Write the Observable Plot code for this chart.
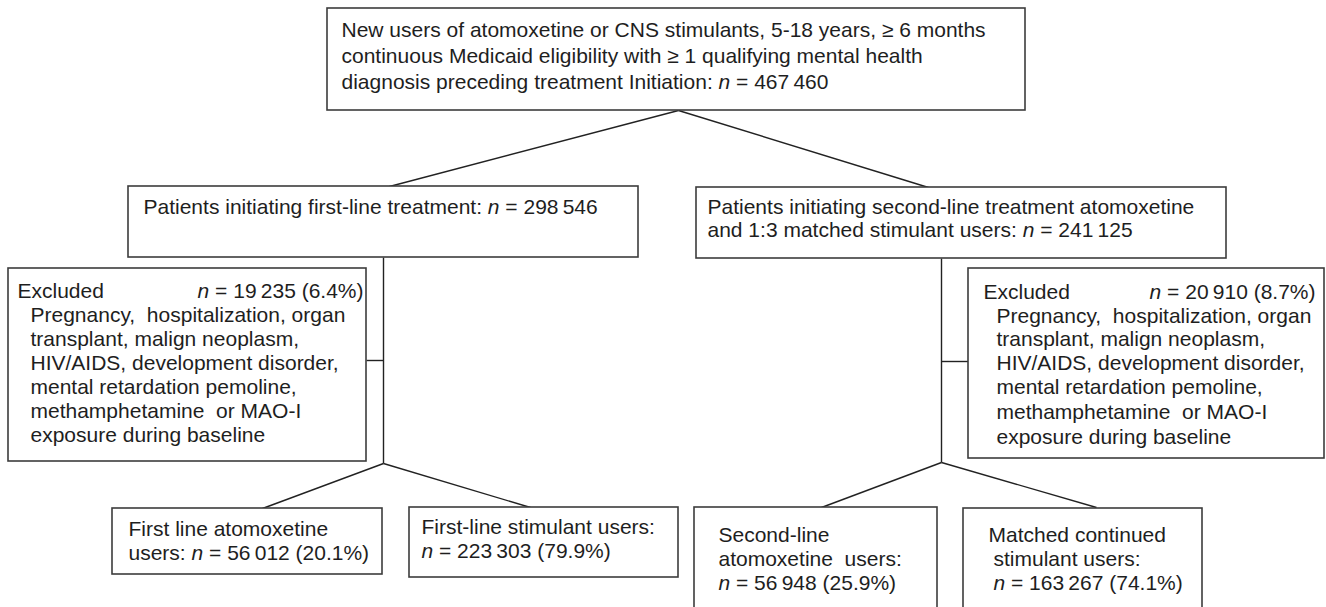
<!DOCTYPE html>
<html>
<head>
<meta charset="utf-8">
<script src="https://cdn.jsdelivr.net/npm/d3@7"></script>
<script src="https://cdn.jsdelivr.net/npm/@observablehq/plot@0.6"></script>
<style>
  html, body { margin: 0; padding: 0; background: #fff; overflow: hidden; }
  svg text { white-space: pre; }
</style>
</head>
<body>
<div id="chart"></div>
<script>
// ---- flowchart data ----
const boxes = [
  {id: "all",        x1: 327, y1: 8,   x2: 1025, y2: 110},
  {id: "first",      x1: 128, y1: 186, x2: 638,  y2: 257},
  {id: "second",     x1: 696, y1: 187, x2: 1226, y2: 258},
  {id: "exclLeft",   x1: 8,   y1: 268, x2: 366,  y2: 461},
  {id: "exclRight",  x1: 968, y1: 268, x2: 1324, y2: 458},
  {id: "firstAtx",   x1: 112, y1: 508, x2: 382,  y2: 574},
  {id: "firstStim",  x1: 409, y1: 507, x2: 678,  y2: 577},
  {id: "secondAtx",  x1: 694, y1: 507, x2: 937,  y2: 615},
  {id: "matched",    x1: 963, y1: 508, x2: 1202, y2: 615}
];

const connectors = [
  {x1: 678, y1: 110, x2: 389, y2: 186},
  {x1: 678, y1: 110, x2: 928, y2: 187},
  {x1: 383, y1: 257, x2: 383, y2: 463},
  {x1: 366, y1: 360, x2: 383, y2: 360},
  {x1: 383, y1: 463, x2: 262, y2: 508},
  {x1: 383, y1: 463, x2: 530, y2: 507},
  {x1: 941, y1: 258, x2: 941, y2: 462},
  {x1: 941, y1: 361, x2: 968, y2: 361},
  {x1: 941, y1: 462, x2: 821, y2: 507},
  {x1: 941, y1: 462, x2: 1096, y2: 507}
];

const textLeft = [
  {x: 341, y: 30,  text: "New users of atomoxetine or CNS stimulants, 5-18 years, \u2265 6 months"},
  {x: 341, y: 56,  text: "continuous Medicaid eligibility with \u2265 1 qualifying mental health"},
  {x: 341, y: 82,  text: "diagnosis preceding treatment Initiation: n = 467\u2009460"},
  {x: 143, y: 207, text: "Patients initiating first-line treatment: n = 298\u2009546"},
  {x: 707, y: 207, text: "Patients initiating second-line treatment atomoxetine"},
  {x: 707, y: 230, text: "and 1:3 matched stimulant users: n = 241\u2009125"},
  {x: 17,  y: 291, text: "Excluded"},
  {x: 30,  y: 315, text: "Pregnancy,  hospitalization, organ"},
  {x: 30,  y: 339, text: "transplant, malign neoplasm,"},
  {x: 30,  y: 363, text: "HIV/AIDS, development disorder,"},
  {x: 30,  y: 387, text: "mental retardation pemoline,"},
  {x: 30,  y: 411, text: "methamphetamine  or MAO-I"},
  {x: 30,  y: 435, text: "exposure during baseline"},
  {x: 983, y: 292, text: "Excluded"},
  {x: 996, y: 316, text: "Pregnancy,  hospitalization, organ"},
  {x: 996, y: 339, text: "transplant, malign neoplasm,"},
  {x: 996, y: 363, text: "HIV/AIDS, development disorder,"},
  {x: 996, y: 387, text: "mental retardation pemoline,"},
  {x: 996, y: 412, text: "methamphetamine  or MAO-I"},
  {x: 996, y: 437, text: "exposure during baseline"},
  {x: 128, y: 529, text: "First line atomoxetine"},
  {x: 128, y: 553, text: "users: n = 56\u2009012 (20.1%)"},
  {x: 421, y: 527, text: "First-line stimulant users:"},
  {x: 421, y: 551, text: "n = 223\u2009303 (79.9%)"},
  {x: 718, y: 535, text: "Second-line"},
  {x: 718, y: 559, text: "atomoxetine  users:"},
  {x: 718, y: 583, text: "n = 56\u2009948 (25.9%)"},
  {x: 988, y: 535, text: "Matched continued"},
  {x: 993, y: 559, text: "stimulant users:"},
  {x: 993, y: 583, text: "n = 163\u2009267 (74.1%)"}
];

const textRight = [
  {x: 363,  y: 291, text: "n = 19\u2009235 (6.4%)"},
  {x: 1315, y: 292, text: "n = 20\u2009910 (8.7%)"}
];

// ---- chart ----
const W = 1326, H = 607;
const chart = Plot.plot({
  width: W,
  height: H,
  margin: 0,
  x: {domain: [0, W], range: [0, W], axis: null},
  y: {domain: [0, H], range: [0, H], axis: null},
  style: {fontFamily: "'Liberation Sans', Arial, Helvetica, sans-serif", background: "#fff", overflow: "hidden"},
  marks: [
    Plot.link(connectors, {x1: "x1", y1: "y1", x2: "x2", y2: "y2", stroke: "#222", strokeWidth: 1.4}),
    Plot.rect(boxes, {x1: "x1", x2: "x2", y1: "y1", y2: "y2", fill: "#fff", stroke: "#3c3c3c", strokeWidth: 1.6}),
    Plot.text(textLeft, {x: "x", y: "y", text: "text", textAnchor: "start", fontSize: 21, fill: "#1e1e1e"}),
    Plot.text(textRight, {x: "x", y: "y", text: "text", textAnchor: "end", fontSize: 21, fill: "#1e1e1e"})
  ]
});

// italicise the statistical symbol "n"
chart.querySelectorAll("text").forEach(t => {
  if (t.children.length) return;
  const s = t.textContent;
  const i = s.indexOf("n = ");
  if (i < 0 || (i > 0 && s[i - 1] !== " ")) return;
  t.textContent = "";
  const ns = "http://www.w3.org/2000/svg";
  const a = document.createElementNS(ns, "tspan"); a.textContent = s.slice(0, i);
  const b = document.createElementNS(ns, "tspan"); b.textContent = "n"; b.setAttribute("font-style", "italic");
  const c = document.createElementNS(ns, "tspan"); c.textContent = s.slice(i + 1);
  if (i > 0) t.appendChild(a);
  t.appendChild(b);
  t.appendChild(c);
});

document.getElementById("chart").appendChild(chart);
</script>
</body>
</html>
